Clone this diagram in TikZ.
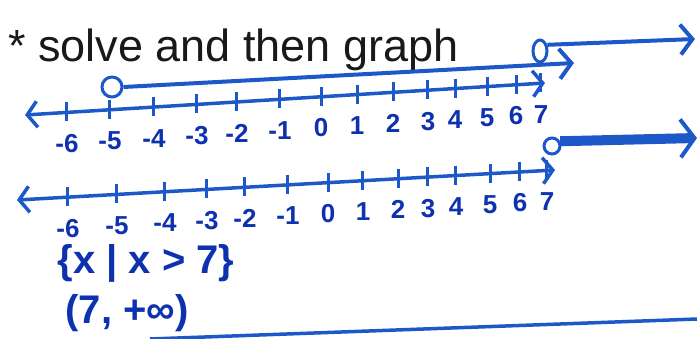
\documentclass[tikz,border=0pt]{standalone}
\usepackage{fontspec}
\setmainfont{Liberation Sans}
\usepackage{tikz}
\usetikzlibrary{arrows.meta,calc,positioning,shapes.geometric}
\definecolor{pen}{RGB}{28,88,200}
\definecolor{ink}{RGB}{14,50,175}
\definecolor{lead}{RGB}{25,25,25}
\tikzset{
  numln/.style={pen,line width=3.5pt,{Straight Barb[length=10pt,width=26pt]}-{Straight Barb[length=10pt,width=26pt]}},
  tk/.style={pen,line width=3pt},
  numlbl/.style={ink,font=\fontsize{26}{26}\selectfont\bfseries,inner sep=0pt},
  ray/.style={pen,line width=4pt,-{Straight Barb[length=12pt,width=30pt]}},
  fatray/.style={pen,line width=10pt,-{Straight Barb[length=14pt,width=38pt,line width=4pt]}},
  hole/.style={draw=pen,line width=3pt,circle,minimum size=20pt,inner sep=0pt},
  note/.style={ink,font=\fontsize{40}{40}\selectfont\bfseries,inner sep=0pt},
}
\begin{document}
\begin{tikzpicture}[x=1pt,y=-1pt]
 \useasboundingbox (0,0) rectangle (697,339);
 \node[lead,font=\fontsize{45}{45}\selectfont,anchor=base west,inner sep=0pt] (title) at (8,62) {* solve and then graph};
 % first line
 \coordinate (l1w) at (25,115); \coordinate (l1e) at (545,83);
 \draw[numln] (l1w) -- (l1e);
 \foreach \v/\x in {-6/67,-5/110,-4/154,-3/197,-2/237,-1/280,0/321,1/357,2/393,3/428,4/455,5/487,6/516,7/541}{
  \coordinate (a\v) at ($(l1w)!{(\x-25)/520}!(l1e)$);
  \draw[tk] ([yshift=10pt]a\v) -- ([yshift=-9pt]a\v);
  \node[numlbl] (p\v) at ([yshift=-31pt]a\v) {\v};
 }
 % second line
 \coordinate (l2w) at (17,200); \coordinate (l2e) at (555,170);
 \draw[numln] (l2w) -- (l2e);
 \foreach \v/\x in {-6/68,-5/117,-4/165,-3/207,-2/245,-1/288,0/328,1/363,2/398,3/428,4/456,5/490,6/520,7/547}{
  \coordinate (b\v) at ($(l2w)!{(\x-17)/538}!(l2e)$);
  \draw[tk] ([yshift=10pt]b\v) -- ([yshift=-9pt]b\v);
  \node[numlbl] (q\v) at ([yshift=-31pt]b\v) {\v};
 }
 % rays
 \node[hole] (o1) at (112,87) {};
 \coordinate (r1) at (574,63);
 \draw[ray] (o1.east) -- (r1);
 \node[hole,ellipse,minimum width=14pt,minimum height=22pt] (o2) at (540,51) {};
 \coordinate (r2) at (695,39);
 \draw[ray] (o2.40) -- (r2);
 \node[hole,minimum size=16pt] (o3) at (552,146) {};
 \coordinate (r3) at (697,138);
 \draw[fatray] (o3.30) -- (r3);
 % answer
 \node[note] (setb) at (146,263) {\{x | x > 7\}};
 \node[note] (intv) at (127,313) {(7, +∞)};
 \coordinate (u1) at (150,339); \coordinate (u2) at (697,319);
 \draw[pen,line width=3.5pt] (u1) -- (u2);
\end{tikzpicture}
\end{document}
